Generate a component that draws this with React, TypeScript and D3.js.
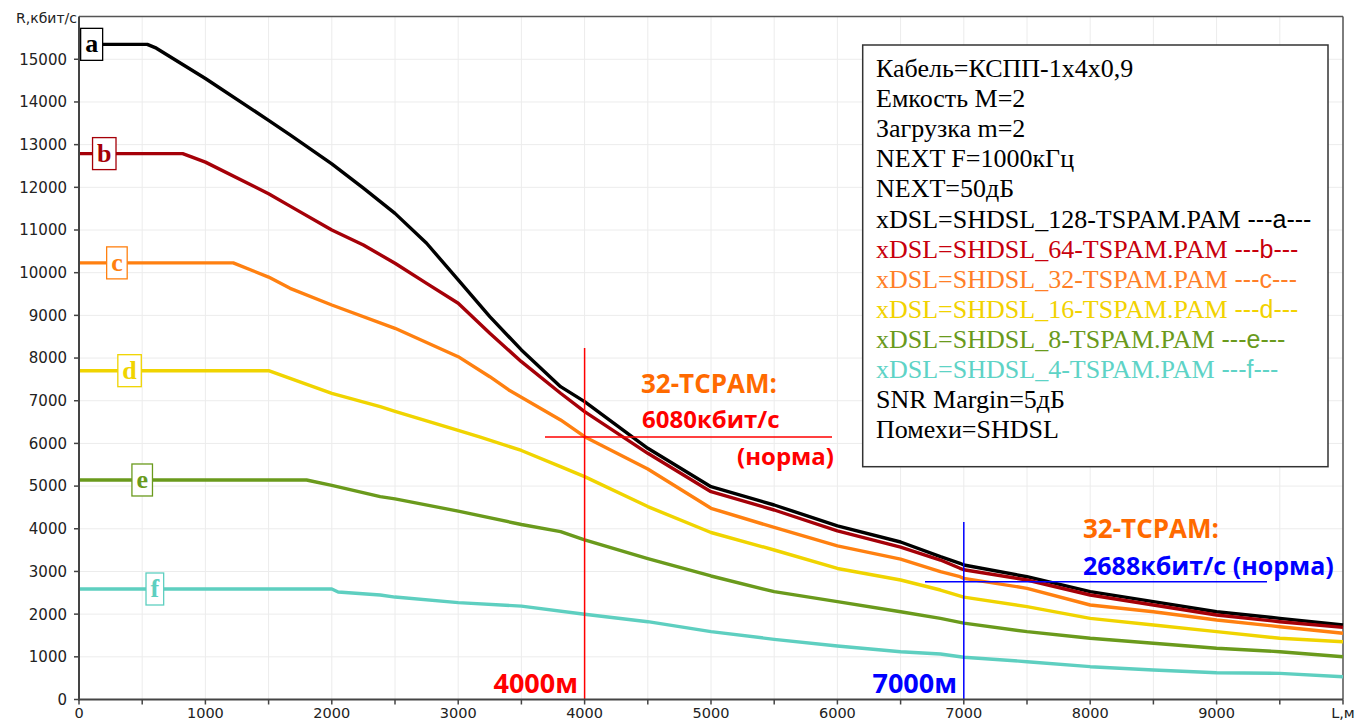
import React from "react";
import * as d3 from "d3";

// ---- data (distance in m, rate in kbit/s) ----
const seriesKeys = ["a", "b", "c", "d", "e", "f"];
const seriesNames = [
  "xDSL=SHDSL_128-TSPAM.PAM",
  "xDSL=SHDSL_64-TSPAM.PAM",
  "xDSL=SHDSL_32-TSPAM.PAM",
  "xDSL=SHDSL_16-TSPAM.PAM",
  "xDSL=SHDSL_8-TSPAM.PAM",
  "xDSL=SHDSL_4-TSPAM.PAM",
];
const seriesColors = ["#000000", "#a50008", "#ff8010", "#f0d400", "#6a9a1c", "#5ecfc0"];
const legendTextColors = ["#000000", "#c8000c", "#ff7f27", "#f2d200", "#6a9a1c", "#5ed3c6"];

const distA = [0, 540, 612, 1000, 1500, 1670, 2000, 2250, 2500, 2750, 3000, 3250, 3500, 3810, 4000, 4500, 5000, 5500, 6000, 6500, 6815, 6970, 7000, 7500, 8000, 8500, 9000, 9500, 10000];
const rateA = [15350, 15350, 15260, 14550, 13570, 13230, 12550, 11980, 11390, 10690, 9830, 8970, 8190, 7330, 6978, 5885, 4986, 4557, 4070, 3690, 3346, 3191, 3151, 2877, 2526, 2292, 2057, 1902, 1746];

const distB = [0, 820, 900, 1000, 1500, 1670, 2000, 2250, 2500, 2750, 3000, 3250, 3500, 3810, 4000, 4500, 5000, 5500, 6000, 6500, 6815, 6970, 7000, 7500, 8000, 8500, 9000, 9500, 10000];
const rateB = [12790, 12790, 12700, 12590, 11850, 11560, 11000, 10650, 10220, 9750, 9283, 8580, 7915, 7175, 6744, 5768, 4869, 4440, 3950, 3570, 3268, 3074, 3040, 2800, 2448, 2214, 1980, 1823, 1691];

const distC = [0, 1220, 1500, 1670, 2000, 2500, 3000, 3250, 3400, 3810, 4000, 4500, 5000, 5500, 6000, 6500, 6815, 6970, 7000, 7500, 8000, 8500, 9000, 9500, 10000];
const rateC = [10230, 10230, 9897, 9634, 9243, 8697, 8032, 7563, 7252, 6550, 6158, 5400, 4480, 4030, 3600, 3290, 2994, 2877, 2839, 2605, 2214, 2057, 1863, 1706, 1551];

const distD = [0, 1500, 2000, 2383, 2500, 3000, 3175, 3500, 3810, 4000, 4500, 5000, 5500, 6000, 6500, 6815, 7000, 7500, 8000, 8500, 9000, 9500, 10000];
const rateD = [7704, 7704, 7174, 6860, 6750, 6305, 6147, 5835, 5456, 5221, 4520, 3913, 3503, 3070, 2800, 2565, 2400, 2175, 1902, 1746, 1589, 1434, 1354];

const distE = [0, 1800, 2000, 2383, 2500, 3000, 3500, 3810, 4000, 4500, 5000, 5500, 6000, 6500, 6815, 7000, 7500, 8000, 8500, 9000, 9500, 10000];
const rateE = [5143, 5143, 5015, 4752, 4700, 4415, 4100, 3933, 3740, 3300, 2894, 2526, 2292, 2057, 1902, 1790, 1589, 1434, 1317, 1200, 1120, 1003];

const distF = [0, 2000, 2050, 2383, 2500, 3000, 3500, 4000, 4500, 5000, 5500, 6000, 6500, 6815, 7000, 7500, 8000, 8500, 9000, 9500, 10000];
const rateF = [2589, 2589, 2519, 2448, 2400, 2270, 2187, 1996, 1823, 1589, 1410, 1253, 1120, 1066, 989, 886, 769, 691, 628, 613, 534];

const seriesDist = [distA, distB, distC, distD, distE, distF];
const seriesRate = [rateA, rateB, rateC, rateD, rateE, rateF];
const labelDist = [100, 200, 300, 400, 500, 600];

const xTickValues = [0, 1000, 2000, 3000, 4000, 5000, 6000, 7000, 8000, 9000];
const xTickLabelLast = "L,м";
const yTickValues = [0, 1000, 2000, 3000, 4000, 5000, 6000, 7000, 8000, 9000, 10000, 11000, 12000, 13000, 14000, 15000];
const yAxisLabel = "R,кбит/с";

const legendHeader = ["Кабель=КСПП-1x4x0,9", "Емкость M=2", "Загрузка m=2", "NEXT F=1000кГц", "NEXT=50дБ"];
const legendFooter = ["SNR Margin=5дБ", "Помехи=SHDSL"];

const marker1Dist = 4000;
const marker1Rate = 6150;
const marker2Dist = 7000;
const marker2Rate = 2760;

const W = 1358;
const H = 722;

const letterEm: Record<string, number> = { a: 0.5, b: 0.556, c: 0.444, d: 0.556, e: 0.444, f: 0.333 };

export default function App() {
  const x = d3.scaleLinear().domain([0, 10000]).range([79, 1343]);
  const y = d3.scaleLinear().domain([0, 16000]).range([699.5, 16.6]);
  const line = d3
    .line<[number, number]>()
    .x((d) => x(d[0]))
    .y((d) => y(d[1]))
    .curve(d3.curveLinear);

  const xMinor = d3.range(0, 10001, 500);
  const yGrid = d3.range(0, 16001, 1000);

  const axisFont = "'DejaVu Sans', sans-serif";
  const annFont = "'Open Sans', sans-serif";
  const serif = "'Liberation Serif', 'Times New Roman', serif";
  const lgSize = 26;
  const lgStep = 30.1;
  const lgY0 = 77;

  return (
    <svg
      width={W}
      height={H}
      style={{ position: "absolute", left: 0, top: 0, background: "#fff" }}
    >
      <rect x={0} y={0} width={W} height={H} fill="#fff" />
      {/* grid */}
      {xMinor.map((v) => (
        <line key={"gx" + v} x1={x(v)} x2={x(v)} y1={y(16000)} y2={y(0)} stroke="#ececec" strokeWidth={1} />
      ))}
      {yGrid.map((v) => (
        <line key={"gy" + v} x1={x(0)} x2={x(10000)} y1={y(v)} y2={y(v)} stroke="#ececec" strokeWidth={1} />
      ))}
      {/* frame */}
      <line x1={x(0)} x2={x(10000)} y1={y(16000)} y2={y(16000)} stroke="#555" strokeWidth={1.5} />
      <line x1={x(10000)} x2={x(10000)} y1={y(16000)} y2={y(0)} stroke="#555" strokeWidth={1.5} />

      {/* series */}
      {seriesKeys.map((k, i) => {
        const pts: [number, number][] = seriesDist[i].map((d, j) => [d, seriesRate[i][j]]);
        return (
          <path
            key={"s" + k}
            d={line(pts) || ""}
            fill="none"
            stroke={seriesColors[i]}
            strokeWidth={3.4}
            strokeLinejoin="round"
          />
        );
      })}

      {/* series label boxes */}
      {seriesKeys.map((k, i) => {
        const cx = x(labelDist[i]);
        const cy = y(seriesRate[i][0]);
        const bw = letterEm[k] * 26 + 9;
        return (
          <g key={"lb" + k}>
            <rect x={cx - bw / 2} y={cy - 16} width={bw} height={32} fill="#fff" stroke={seriesColors[i]} strokeWidth={1.3} />
            <text
              x={cx}
              y={cy + 8}
              textAnchor="middle"
              fontFamily={serif}
              fontWeight="bold"
              fontSize={26}
              fill={seriesColors[i]}
            >
              {k}
            </text>
          </g>
        );
      })}

      {/* markers */}
      <line x1={x(marker1Dist)} x2={x(marker1Dist)} y1={348} y2={y(0)} stroke="#ff0000" strokeWidth={1.5} />
      <line x1={545} x2={832} y1={y(marker1Rate)} y2={y(marker1Rate)} stroke="#ff0000" strokeWidth={1.5} />
      <line x1={x(marker2Dist)} x2={x(marker2Dist)} y1={522} y2={y(0)} stroke="#0000ff" strokeWidth={1.5} />
      <line x1={925} x2={1267} y1={y(marker2Rate)} y2={y(marker2Rate)} stroke="#0000ff" strokeWidth={1.5} />

      <text x={641} y={393} fontFamily={annFont} fontWeight="bold" fontSize={26} fill="#ff6a00">32-TCPAM:</text>
      <text x={642} y={428} fontFamily={annFont} fontWeight="bold" fontSize={24} fill="#ff0000">6080кбит/с</text>
      <text x={834} y={465} textAnchor="end" fontFamily={annFont} fontWeight="bold" fontSize={24} fill="#ff0000">(норма)</text>
      <text x={578} y={693} textAnchor="end" fontFamily={annFont} fontWeight="bold" fontSize={27} fill="#ff0000">4000м</text>
      <text x={957} y={693} textAnchor="end" fontFamily={annFont} fontWeight="bold" fontSize={27} fill="#0000ff">7000м</text>
      <text x={1083} y={538} fontFamily={annFont} fontWeight="bold" fontSize={26} fill="#ff6a00">32-TCPAM:</text>
      <text x={1083} y={575} fontFamily={annFont} fontWeight="bold" fontSize={25} fill="#0000ff">2688кбит/с (норма)</text>

      {/* axes */}
      <line x1={x(0)} x2={x(0)} y1={y(16000)} y2={y(0) + 1} stroke="#444" strokeWidth={2} />
      <line x1={x(0) - 1} x2={x(10000)} y1={y(0)} y2={y(0)} stroke="#444" strokeWidth={2} />
      {yTickValues.map((v) => (
        <g key={"yt" + v}>
          <line x1={x(0) - 5} x2={x(0)} y1={y(v)} y2={y(v)} stroke="#444" strokeWidth={1.5} />
          <text x={67} y={y(v)} dy="0.36em" textAnchor="end" fontFamily={axisFont} fontSize={15} fill="#222">
            {v}
          </text>
        </g>
      ))}
      <text x={77} y={23} textAnchor="end" fontFamily={axisFont} fontSize={14} fill="#222">{yAxisLabel}</text>
      {xMinor.map((v) => (
        <line key={"xt" + v} x1={x(v)} x2={x(v)} y1={y(0)} y2={y(0) + 5} stroke="#444" strokeWidth={1.5} />
      ))}
      {xTickValues.map((v) => (
        <text key={"xl" + v} x={x(v)} y={717.5} textAnchor="middle" fontFamily={axisFont} fontSize={14.5} fill="#222">
          {v}
        </text>
      ))}
      <text x={x(10000)} y={717.5} textAnchor="middle" fontFamily={axisFont} fontSize={14.5} fill="#222">{xTickLabelLast}</text>

      {/* legend box */}
      <rect x={862.7} y={45} width={465.3} height={421.7} fill="#fff" stroke="#333" strokeWidth={1.5} />
      {legendHeader.map((t, i) => (
        <text key={"lh" + i} x={876} y={lgY0 + i * lgStep} fontFamily={serif} fontSize={lgSize} fill="#000">{t}</text>
      ))}
      {seriesNames.map((t, i) => (
        <text key={"ls" + i} x={876} y={lgY0 + (i + 5) * lgStep} fontFamily={serif} fontSize={lgSize} fill={legendTextColors[i]}>
          {t}
          <tspan fontFamily="'Liberation Sans', sans-serif" fontSize={25}>{" ---" + seriesKeys[i] + "---"}</tspan>
        </text>
      ))}
      {legendFooter.map((t, i) => (
        <text key={"lf" + i} x={876} y={lgY0 + (i + 11) * lgStep} fontFamily={serif} fontSize={lgSize} fill="#000">{t}</text>
      ))}
    </svg>
  );
}
